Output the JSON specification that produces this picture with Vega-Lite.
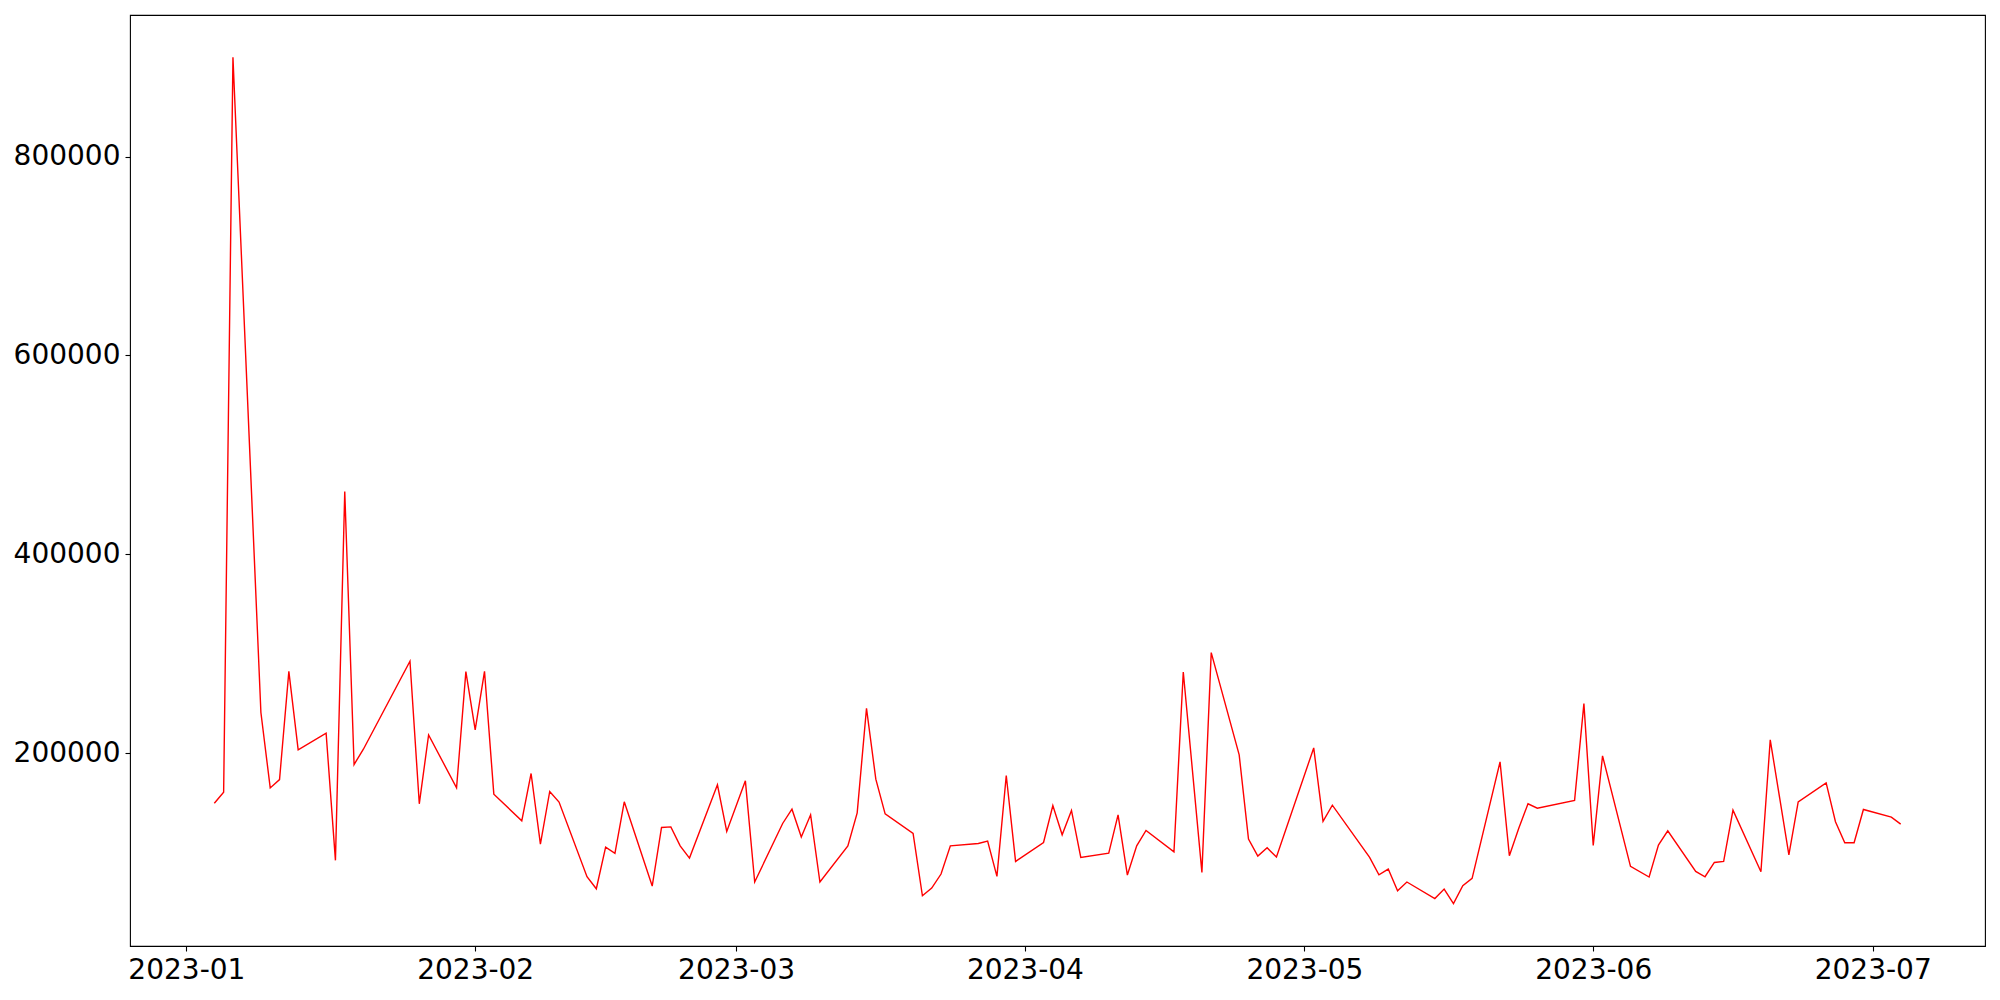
{
  "$schema": "https://vega.github.io/schema/vega-lite/v6.json",
  "width": 1855,
  "height": 931,
  "autosize": "none",
  "padding": {"left": 130, "top": 15, "right": 15, "bottom": 54},
  "background": "white",
  "config": {
    "font": "DejaVu Sans",
    "view": {"stroke": "black", "strokeWidth": 1.1},
    "axis": {
      "domain": false,
      "grid": false,
      "ticks": true,
      "tickColor": "black",
      "tickSize": 5,
      "tickWidth": 1.1,
      "labelPadding": 5,
      "labelFont": "DejaVu Sans",
      "labelFontSize": 28,
      "labelColor": "black",
      "title": null
    }
  },
  "data": {
    "values": [
      {"date": "2023-01-04", "value": 149500},
      {"date": "2023-01-05", "value": 160600},
      {"date": "2023-01-06", "value": 900000},
      {"date": "2023-01-09", "value": 240700},
      {"date": "2023-01-10", "value": 164900},
      {"date": "2023-01-11", "value": 173300},
      {"date": "2023-01-12", "value": 282200},
      {"date": "2023-01-13", "value": 203100},
      {"date": "2023-01-16", "value": 219900},
      {"date": "2023-01-17", "value": 92000},
      {"date": "2023-01-18", "value": 463000},
      {"date": "2023-01-19", "value": 188400},
      {"date": "2023-01-20", "value": 203800},
      {"date": "2023-01-25", "value": 292300},
      {"date": "2023-01-26", "value": 148900},
      {"date": "2023-01-27", "value": 218200},
      {"date": "2023-01-30", "value": 164900},
      {"date": "2023-01-31", "value": 281900},
      {"date": "2023-02-01", "value": 223200},
      {"date": "2023-02-02", "value": 282200},
      {"date": "2023-02-03", "value": 158600},
      {"date": "2023-02-06", "value": 131800},
      {"date": "2023-02-07", "value": 179400},
      {"date": "2023-02-08", "value": 108300},
      {"date": "2023-02-09", "value": 161300},
      {"date": "2023-02-10", "value": 150600},
      {"date": "2023-02-13", "value": 75500},
      {"date": "2023-02-14", "value": 63400},
      {"date": "2023-02-15", "value": 105300},
      {"date": "2023-02-16", "value": 99000},
      {"date": "2023-02-17", "value": 150900},
      {"date": "2023-02-20", "value": 66100},
      {"date": "2023-02-21", "value": 125100},
      {"date": "2023-02-22", "value": 125700},
      {"date": "2023-02-23", "value": 106600},
      {"date": "2023-02-24", "value": 94300},
      {"date": "2023-02-27", "value": 168000},
      {"date": "2023-02-28", "value": 121100},
      {"date": "2023-03-02", "value": 172000},
      {"date": "2023-03-03", "value": 70200},
      {"date": "2023-03-06", "value": 129100},
      {"date": "2023-03-07", "value": 143500},
      {"date": "2023-03-08", "value": 115400},
      {"date": "2023-03-09", "value": 137800},
      {"date": "2023-03-10", "value": 70200},
      {"date": "2023-03-13", "value": 106600},
      {"date": "2023-03-14", "value": 139800},
      {"date": "2023-03-15", "value": 245000},
      {"date": "2023-03-16", "value": 173700},
      {"date": "2023-03-17", "value": 138800},
      {"date": "2023-03-20", "value": 119100},
      {"date": "2023-03-21", "value": 56400},
      {"date": "2023-03-22", "value": 64100},
      {"date": "2023-03-23", "value": 78200},
      {"date": "2023-03-24", "value": 106600},
      {"date": "2023-03-27", "value": 109000},
      {"date": "2023-03-28", "value": 111400},
      {"date": "2023-03-29", "value": 75900},
      {"date": "2023-03-30", "value": 177400},
      {"date": "2023-03-31", "value": 90900},
      {"date": "2023-04-03", "value": 110000},
      {"date": "2023-04-04", "value": 147200},
      {"date": "2023-04-05", "value": 117700},
      {"date": "2023-04-06", "value": 142200},
      {"date": "2023-04-07", "value": 95000},
      {"date": "2023-04-10", "value": 99300},
      {"date": "2023-04-11", "value": 137800},
      {"date": "2023-04-12", "value": 77200},
      {"date": "2023-04-13", "value": 106600},
      {"date": "2023-04-14", "value": 122100},
      {"date": "2023-04-17", "value": 100600},
      {"date": "2023-04-18", "value": 281500},
      {"date": "2023-04-20", "value": 79900},
      {"date": "2023-04-21", "value": 301000},
      {"date": "2023-04-24", "value": 198100},
      {"date": "2023-04-25", "value": 113400},
      {"date": "2023-04-26", "value": 96300},
      {"date": "2023-04-27", "value": 104600},
      {"date": "2023-04-28", "value": 95300},
      {"date": "2023-05-02", "value": 205100},
      {"date": "2023-05-03", "value": 131200},
      {"date": "2023-05-04", "value": 147500},
      {"date": "2023-05-08", "value": 95000},
      {"date": "2023-05-09", "value": 77500},
      {"date": "2023-05-10", "value": 83200},
      {"date": "2023-05-11", "value": 61300},
      {"date": "2023-05-12", "value": 70200},
      {"date": "2023-05-15", "value": 53600},
      {"date": "2023-05-16", "value": 63100},
      {"date": "2023-05-17", "value": 48400},
      {"date": "2023-05-18", "value": 66400},
      {"date": "2023-05-19", "value": 73900},
      {"date": "2023-05-22", "value": 191100},
      {"date": "2023-05-23", "value": 96600},
      {"date": "2023-05-24", "value": 124100},
      {"date": "2023-05-25", "value": 148900},
      {"date": "2023-05-26", "value": 144500},
      {"date": "2023-05-30", "value": 152300},
      {"date": "2023-05-31", "value": 249700},
      {"date": "2023-06-01", "value": 107000},
      {"date": "2023-06-02", "value": 197100},
      {"date": "2023-06-05", "value": 85900},
      {"date": "2023-06-07", "value": 75200},
      {"date": "2023-06-08", "value": 107300},
      {"date": "2023-06-09", "value": 121700},
      {"date": "2023-06-12", "value": 80900},
      {"date": "2023-06-13", "value": 75500},
      {"date": "2023-06-14", "value": 89900},
      {"date": "2023-06-15", "value": 90900},
      {"date": "2023-06-16", "value": 142500},
      {"date": "2023-06-19", "value": 80500},
      {"date": "2023-06-20", "value": 213200},
      {"date": "2023-06-22", "value": 97600},
      {"date": "2023-06-23", "value": 150900},
      {"date": "2023-06-26", "value": 169900},
      {"date": "2023-06-27", "value": 130800},
      {"date": "2023-06-28", "value": 109700},
      {"date": "2023-06-29", "value": 109700},
      {"date": "2023-06-30", "value": 143200},
      {"date": "2023-07-03", "value": 135500},
      {"date": "2023-07-04", "value": 128400}
    ]
  },
  "mark": {"type": "line", "color": "#ff0000", "strokeWidth": 1.4, "clip": true},
  "encoding": {
    "x": {
      "field": "date",
      "type": "temporal",
      "scale": {
        "type": "utc",
        "domain": [
          {"year": 2022, "month": 12, "date": 25, "hours": 22, "minutes": 48, "utc": true},
          {"year": 2023, "month": 7, "date": 13, "hours": 1, "minutes": 12, "utc": true}
        ],
        "nice": false
      },
      "axis": {
        "values": [
          {"year": 2023, "month": 1, "date": 1, "utc": true},
          {"year": 2023, "month": 2, "date": 1, "utc": true},
          {"year": 2023, "month": 3, "date": 1, "utc": true},
          {"year": 2023, "month": 4, "date": 1, "utc": true},
          {"year": 2023, "month": 5, "date": 1, "utc": true},
          {"year": 2023, "month": 6, "date": 1, "utc": true},
          {"year": 2023, "month": 7, "date": 1, "utc": true}
        ],
        "labelExpr": "utcFormat(datum.value, '%Y-%m')",
        "labelAngle": 0,
        "labelOverlap": false,
        "labelFlush": false
      }
    },
    "y": {
      "field": "value",
      "type": "quantitative",
      "scale": {"domain": [5820, 942580], "nice": false, "zero": false},
      "axis": {
        "values": [200000, 400000, 600000, 800000],
        "format": "d",
        "labelOverlap": false,
        "labelFlush": false
      }
    }
  }
}
